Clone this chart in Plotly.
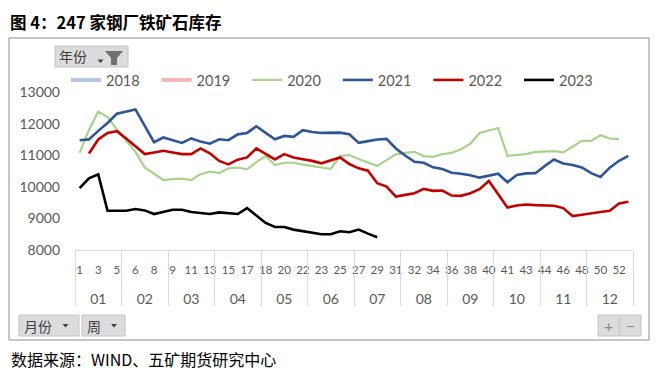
import plotly.graph_objects as go

# ---------------- data ----------------
MONTHS = ["01", "02", "03", "04", "05", "06", "07", "08", "09", "10", "11", "12"]
WEEKS = [1, 2, 3, 4, 5, 5, 6, 7, 8, 9, 9, 10, 11, 12, 13, 14, 15, 16, 17, 18,
         18, 19, 20, 21, 22, 22, 23, 24, 25, 26, 27, 28, 29, 30, 31, 31, 32, 33, 34, 35,
         36, 37, 38, 39, 40, 40, 41, 42, 43, 44, 44, 45, 46, 47, 48, 49, 50, 51, 52, 53]
WEEKS_PER_MONTH = 5

Y2018 = [None] * 60
Y2019 = [None] * 60
Y2020 = [11075, 11800, 12385, 12210, 11820, 11475, 11105, 10615, 10405, 10215,
         10240, 10260, 10215, 10400, 10478, 10435, 10585, 10610, 10553, 10780,
         10972, 10689, 10761, 10761, 10700, 10650, 10615, 10570, 10975, 11003,
         10877, 10761, 10657, 10846, 11025, 11075, 11107, 10972, 10950, 11035,
         11075, 11185, 11360, 11704, 11789, 11862, 10981, 11003, 11035, 11107,
         11118, 11129, 11087, 11265, 11453, 11453, 11632, 11528, 11506, None]
Y2021 = [11475, 11500, 11770, 12020, 12310, 12390, 12450, 11930, 11410, 11560,
         11475, 11390, 11530, 11430, 11365, 11505, 11475, 11660, 11705, 11915,
         11705, 11505, 11610, 11580, 11790, 11735, 11705, 11710, 11715, 11665,
         11390, 11445, 11495, 11515, 11215, 10990, 10790, 10760, 10615, 10565,
         10445, 10415, 10365, 10290, 10350, 10415, 10145, 10375, 10425, 10430,
         10655, 10865, 10740, 10690, 10615, 10430, 10310, 10605, 10825, 10980]
Y2022 = [None, 11056, 11497, 11704, 11758, 11528, 11286, 11035, 11087, 11140,
         11087, 11035, 11035, 11213, 11060, 10820, 10710, 10860, 10930, 11213,
         11045, 10867, 11035, 10925, 10870, 10820, 10742, 10846, 10930, 10720,
         10584, 10510, 10113, 10007, 9692, 9745, 9798, 9934, 9871, 9881,
         9723, 9713, 9798, 9924, 10185, 9767, 9346, 9409, 9440, 9421,
         9409, 9399, 9326, 9075, 9116, 9169, 9201, 9242, 9472, 9525]
Y2023 = [9956, 10270, 10395, 9242, 9242, 9242, 9295, 9253, 9138, 9211,
         9274, 9274, 9201, 9169, 9138, 9190, 9169, 9138, 9326, 9085,
         8855, 8730, 8730, 8645, 8591, 8541, 8497, 8497, 8591, 8560,
         8645, 8519, 8403] + [None] * 27

YTICKS = [8000, 9000, 10000, 11000, 12000, 13000]

SERIES = [
    ("2018", Y2018, "#B4C7E7", 4),
    ("2019", Y2019, "#F4B6B9", 4),
    ("2020", Y2020, "#A9D18E", 2.2),
    ("2021", Y2021, "#2F5597", 2.6),
    ("2022", Y2022, "#C00000", 2.6),
    ("2023", Y2023, "#000000", 2.6),
]

# ---------------- layout helpers ----------------
# the page body keeps its default 8px margin, so the figure is drawn 8px in
OFF = 8
W, H = 660 - OFF, 371 - OFF
ML, MR, MT, MB = 75 - OFF, 27, 92 - OFF, 121
PW, PH = W - ML - MR, H - MT - MB


def PX(sx):
    """screen x pixel -> paper x"""
    return (sx - OFF - ML) / PW


def PY(sy):
    """screen y pixel -> paper y"""
    return (H - MB - (sy - OFF)) / PH


idx = list(range(len(WEEKS)))
n = len(WEEKS)

fig = go.Figure()
for name, vals, color, width in SERIES:
    fig.add_trace(go.Scatter(x=idx, y=vals, mode="lines", name=name,
                             line=dict(color=color, width=width),
                             connectgaps=False, hoverinfo="skip"))

bounds = [i * WEEKS_PER_MONTH - 0.5 for i in range(len(MONTHS) + 1)]
centers = [i * WEEKS_PER_MONTH + (WEEKS_PER_MONTH - 1) / 2 for i in range(len(MONTHS))]
even = idx[::2]

# invisible anchors so the month-level axes get drawn
fig.add_trace(go.Scatter(x=bounds, y=[YTICKS[0]] * len(bounds), xaxis="x2",
                         mode="markers", marker=dict(opacity=0), showlegend=False,
                         hoverinfo="skip"))
fig.add_trace(go.Scatter(x=centers, y=[YTICKS[0]] * len(centers), xaxis="x3",
                         mode="markers", marker=dict(opacity=0), showlegend=False,
                         hoverinfo="skip"))

grey = "#595959"
tick_font = dict(family="Lato", size=14, color=grey)

fig.update_layout(
    width=W, height=H,
    margin=dict(l=ML, r=MR, t=MT, b=MB, autoexpand=False),
    paper_bgcolor="white", plot_bgcolor="white",
    showlegend=True,
    legend=dict(orientation="h", x=PX(66), y=PY(80), xanchor="left", yanchor="middle",
                font=dict(family="Lato", size=14.5, color=grey),
                entrywidth=45.6, entrywidthmode="pixels",
                bgcolor="rgba(0,0,0,0)", itemclick=False),
    yaxis=dict(range=[YTICKS[0], YTICKS[-1]], tickvals=YTICKS,
               ticktext=[str(v) for v in YTICKS],
               tickfont=tick_font, showgrid=False, zeroline=False,
               showline=False, ticks="", ticklabelstandoff=14, automargin=False),
    xaxis=dict(range=[-0.5, n - 0.5], tickvals=even,
               ticktext=[str(WEEKS[i]) for i in even], tickangle=0,
               tickfont=dict(family="Lato", size=11.5, color=grey),
               showgrid=False, zeroline=False, showline=True, automargin=False,
               linecolor="#D9D9D9", linewidth=1, ticks="", ticklabelstandoff=9),
    xaxis2=dict(overlaying="x", anchor="y", side="bottom", range=[-0.5, n - 0.5],
                tickvals=bounds, ticks="outside", ticklen=55, tickwidth=1,
                tickcolor="#D9D9D9", showticklabels=False, showgrid=False,
                zeroline=False, showline=False, automargin=False),
    xaxis3=dict(overlaying="x", anchor="y", side="bottom", range=[-0.5, n - 0.5],
                tickvals=centers, ticktext=MONTHS, ticks="", tickangle=0,
                tickfont=dict(family="Lato", size=14, color=grey),
                showgrid=False, zeroline=False, showline=False, automargin=False,
                ticklabelstandoff=39),
)

shapes = []
# outer chart frame
shapes.append(dict(type="rect", xref="paper", yref="paper",
                   x0=PX(9), x1=PX(649), y0=PY(340), y1=PY(38),
                   line=dict(color="#8C8C8C", width=1), fillcolor="rgba(0,0,0,0)"))


def button(x0, x1, y0, y1):
    shapes.append(dict(type="rect", xref="paper", yref="paper",
                       x0=PX(x0), x1=PX(x1), y0=PY(y1), y1=PY(y0),
                       line=dict(color="#C4C4C4", width=1), fillcolor="#DCDCDC"))


def caret(cx, cy, c="#404040"):
    p = "M{},{} L{},{} L{},{} Z".format(PX(cx - 3), PY(cy - 1.5), PX(cx + 3), PY(cy - 1.5),
                                       PX(cx), PY(cy + 2))
    shapes.append(dict(type="path", xref="paper", yref="paper", path=p,
                       fillcolor=c, line=dict(width=0)))


button(55, 128, 46, 67)
caret(100.5, 61)
funnel = [(105, 51), (123, 51), (117, 58), (117, 65), (111, 65), (111, 58)]
p = "M" + " L".join("{},{}".format(PX(a), PY(b)) for a, b in funnel) + " Z"
shapes.append(dict(type="path", xref="paper", yref="paper", path=p,
                   fillcolor="#707070", line=dict(width=0)))
button(19, 79, 315, 336)
caret(65.5, 325.5)
button(82, 125, 315, 336)
caret(114, 325.5)
button(598, 619, 315, 336)
button(620, 641, 315, 336)
fig.update_layout(shapes=shapes)

cjk = "Noto Sans CJK SC"
ann = [
    dict(text="<b>图 4：247 家钢厂铁矿石库存</b>", x=PX(9), y=PY(8.5), yanchor="top",
         borderpad=0, font=dict(family=cjk, size=16.5, color="black")),
    dict(text="数据来源：WIND、五矿期货研究中心", x=PX(9), y=PY(359),
         font=dict(family=cjk, size=16, color="black")),
    dict(text="年份", x=PX(57), y=PY(56.5), font=dict(family=cjk, size=14, color="#404040")),
    dict(text="月份", x=PX(22), y=PY(325.5), font=dict(family=cjk, size=14, color="#404040")),
    dict(text="周", x=PX(85), y=PY(325.5), font=dict(family=cjk, size=14, color="#404040")),
    dict(text="+", x=PX(608.5), y=PY(325.5), xanchor="center",
         font=dict(family="Lato", size=16, color="#8C8C8C")),
    dict(text="−", x=PX(630.5), y=PY(325.5), xanchor="center",
         font=dict(family="Lato", size=16, color="#8C8C8C")),
]
for a in ann:
    a.setdefault("xanchor", "left")
    a.setdefault("yanchor", "middle")
    a.update(xref="paper", yref="paper", showarrow=False)
fig.update_layout(annotations=ann)

fig.write_html("out.html")
